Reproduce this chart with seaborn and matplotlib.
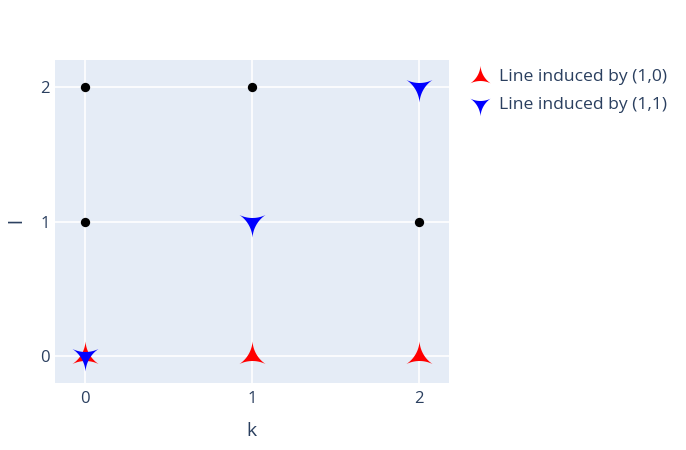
import numpy as np
import pandas as pd
import seaborn as sns
import matplotlib.pyplot as plt
from matplotlib.path import Path

# remaining lattice points (k, l) not on either line
grid_k = [0, 0, 1, 2]
grid_l = [1, 2, 2, 1]

# points on the line induced by (1,0)
line10_k = [0, 1, 2]
line10_l = [0, 0, 0]

# points on the line induced by (1,1)
line11_k = [0, 1, 2]
line11_l = [0, 1, 2]

labels = ["Line induced by (1,0)", "Line induced by (1,1)"]


def star_triangle(up=True, sag=0.2, n=16):
    """Triangle marker with concave (circular arc) sides"""
    s = 1 if up else -1
    corners = [np.array([0, s * 1.0]), np.array([0.866, -s * 0.5]), np.array([-0.866, -s * 0.5])]
    verts = []
    for i in range(3):
        p, q = corners[i], corners[(i + 1) % 3]
        m = (p + q) / 2
        a = np.linalg.norm(q - p) / 2
        u = (q - p) / (2 * a)
        n_out = m / np.linalg.norm(m)
        R = (a ** 2 + sag ** 2) / (2 * sag)
        for x in np.linspace(-a, a, n, endpoint=False):
            off = np.sqrt(R ** 2 - x ** 2) - (R - sag)
            verts.append(m + x * u - off * n_out)
    verts.append(verts[0])
    codes = [Path.MOVETO] + [Path.LINETO] * (len(verts) - 2) + [Path.CLOSEPOLY]
    return Path(verts, codes)


sns.set_style("whitegrid", {"axes.facecolor": "#E5ECF6", "grid.color": "white"})
plt.rcParams["font.family"] = ["Open Sans", "DejaVu Sans"]
text_color = "#2a3f5f"

fig = plt.figure(figsize=(6.86, 4.5), dpi=100)
ax = fig.add_axes([55 / 686, 1 - 383 / 450, (449 - 55) / 686, (383 - 60) / 450])

df_grid = pd.DataFrame({"k": grid_k, "l": grid_l})
df10 = pd.DataFrame({"k": line10_k, "l": line10_l})
df11 = pd.DataFrame({"k": line11_k, "l": line11_l})

sns.scatterplot(data=df_grid, x="k", y="l", color="black", s=45, linewidth=0, ax=ax, zorder=3)
sns.scatterplot(data=df10, x="k", y="l", color="red", marker=star_triangle(True), s=467,
                linewidth=0, ax=ax, label=labels[0], zorder=4)
sns.scatterplot(data=df11, x="k", y="l", color="blue", marker=star_triangle(False), s=467,
                linewidth=0, ax=ax, label=labels[1], zorder=5)

ax.set_xlim(-0.18, 2.18)
ax.set_ylim(-0.2, 2.2)
ax.set_xticks([0, 1, 2])
ax.set_yticks([0, 1, 2])
ax.grid(True, color="white", linewidth=1.2)
ax.set_axisbelow(True)
for sp in ax.spines.values():
    sp.set_visible(False)
ax.tick_params(axis="both", length=0, labelsize=12, colors=text_color)
ax.tick_params(axis="x", pad=6)
ax.tick_params(axis="y", pad=4)

ax.set_xlabel("")
ax.set_ylabel("")
fig.text(251 / 686, 1 - 431 / 450, "k", fontsize=14, color=text_color, ha="center", va="center")
fig.text(16 / 686, 1 - 221 / 450, "l", fontsize=14, color=text_color, ha="center", va="center",
         rotation=90)

ax.legend_.remove()
handles, lbls = ax.get_legend_handles_labels()
leg = fig.legend(handles, lbls, loc="upper left", bbox_to_anchor=(455 / 686, 1 - 62 / 450),
                 frameon=False, fontsize=12.6, handletextpad=0.1, labelspacing=0.65,
                 borderaxespad=0, markerscale=0.78)
for t in leg.get_texts():
    t.set_color(text_color)

fig.savefig("out.png", dpi=100)
